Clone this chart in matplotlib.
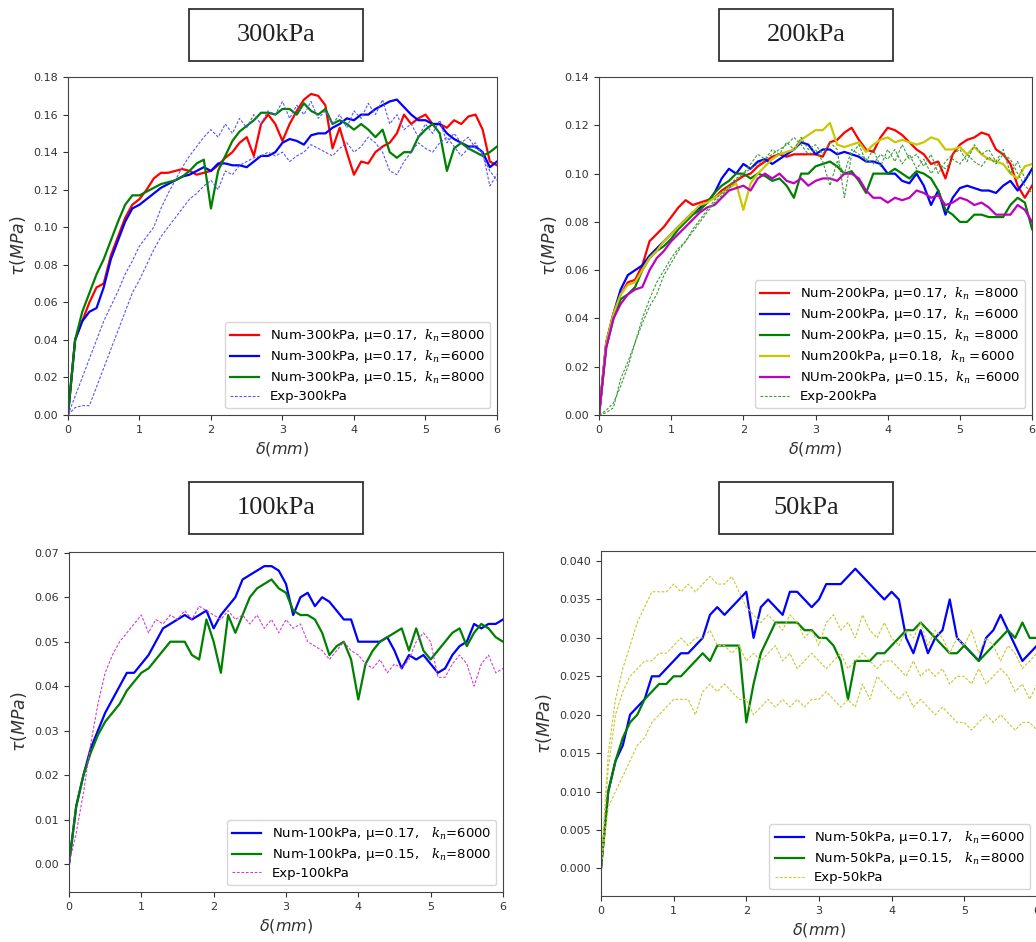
import numpy as np
import matplotlib
matplotlib.use('Agg')
import matplotlib.pyplot as plt
from matplotlib.patches import Rectangle
from matplotlib.font_manager import FontProperties

# displacement grid shared by every curve (0.0 .. 6.0 mm, step 0.1)
X = np.linspace(0, 6, 61)

# ---- 300kPa ----
red_300 = [0, .040, .050, .060, .068, .070, .085, .095, .105, .112,
           .115, .120, .126, .129, .129, .130, .131, .130, .128, .129,
           .130, .133, .137, .140, .145, .148, .138, .155, .160, .155,
           .146, .155, .162, .168, .171, .170, .165, .142, .153, .140,
           .128, .135, .134, .140, .143, .145, .150, .160, .155, .158,
           .160, .155, .155, .153, .157, .155, .159, .160, .152, .135,
           .133]
blue_300 = [0, .040, .050, .055, .057, .068, .083, .093, .103, .110,
            .112, .115, .118, .121, .123, .125, .127, .128, .130, .132,
            .130, .134, .134, .133, .133, .132, .135, .138, .138, .140,
            .145, .147, .146, .144, .149, .150, .150, .153, .155, .158,
            .157, .160, .160, .163, .165, .167, .168, .164, .160, .157,
            .157, .155, .155, .150, .147, .145, .143, .143, .140, .132,
            .135]
green_300 = [0, .040, .055, .065, .075, .083, .093, .103, .112, .117,
             .117, .119, .121, .123, .124, .125, .127, .130, .134, .136,
             .110, .130, .138, .146, .151, .154, .157, .161, .161, .160,
             .163, .163, .160, .166, .162, .160, .163, .155, .157, .155,
             .152, .155, .152, .148, .152, .140, .137, .140, .140, .148,
             .152, .155, .150, .130, .142, .145, .142, .140, .138, .140,
             .143]
exp_300_a = [0, .010, .020, .030, .040, .050, .058, .066, .075, .082,
             .090, .095, .100, .110, .118, .125, .132, .138, .143, .148,
             .152, .148, .155, .150, .158, .153, .160, .155, .162, .160,
             .167, .158, .165, .160, .167, .158, .162, .155, .160, .153,
             .162, .158, .166, .160, .168, .155, .160, .152, .155, .148,
             .155, .150, .157, .145, .150, .145, .148, .142, .140, .122,
             .128]
exp_300_b = [0, .004, .005, .005, .015, .025, .035, .045, .055, .065,
             .072, .080, .088, .095, .100, .105, .110, .115, .118, .122,
             .125, .120, .130, .128, .133, .135, .137, .138, .140, .138,
             .140, .135, .138, .140, .144, .142, .140, .138, .142, .145,
             .140, .143, .148, .145, .140, .130, .128, .135, .140, .145,
             .142, .140, .145, .148, .143, .138, .142, .145, .138, .130,
             .125]

# ---- 200kPa ----
red_200 = [0, .030, .042, .050, .055, .056, .062, .072, .075, .078,
           .082, .086, .089, .087, .088, .089, .090, .093, .095, .097,
           .099, .100, .103, .105, .107, .108, .107, .108, .108, .108,
           .108, .107, .113, .114, .117, .119, .114, .110, .109, .115,
           .119, .118, .116, .113, .110, .108, .104, .105, .098, .108,
           .112, .114, .115, .117, .116, .110, .108, .104, .095, .090,
           .095]
blue_200 = [0, .030, .042, .052, .058, .060, .062, .066, .069, .072,
            .075, .078, .081, .084, .086, .088, .092, .098, .102, .100,
            .104, .102, .105, .106, .104, .106, .108, .110, .113, .112,
            .108, .110, .110, .108, .109, .108, .107, .105, .105, .104,
            .100, .100, .097, .096, .100, .095, .087, .093, .083, .090,
            .094, .095, .094, .093, .093, .092, .095, .097, .093, .097,
            .102]
green_200 = [0, .028, .040, .048, .050, .053, .060, .065, .068, .070,
             .073, .077, .080, .083, .085, .088, .092, .095, .097, .100,
             .100, .098, .100, .099, .097, .098, .095, .090, .100, .100,
             .103, .104, .105, .103, .100, .101, .097, .092, .100, .100,
             .100, .102, .100, .098, .101, .100, .098, .093, .085, .083,
             .080, .080, .083, .083, .082, .082, .082, .087, .090, .088,
             .077]
yellow_200 = [0, .030, .042, .050, .054, .055, .060, .065, .068, .072,
              .075, .078, .081, .084, .087, .088, .090, .092, .094, .096,
              .085, .096, .100, .103, .106, .108, .109, .110, .114, .116,
              .118, .118, .121, .112, .111, .112, .113, .109, .112, .114,
              .115, .113, .114, .113, .112, .113, .115, .114, .110, .110,
              .111, .108, .111, .108, .106, .105, .104, .100, .098, .103,
              .104]
magenta_200 = [0, .028, .040, .046, .050, .052, .053, .060, .065, .068,
               .072, .075, .078, .081, .084, .086, .087, .090, .093, .094,
               .095, .093, .098, .100, .098, .100, .097, .096, .098, .095,
               .097, .098, .098, .097, .100, .100, .098, .093, .090, .090,
               .088, .090, .089, .090, .093, .092, .090, .091, .087, .088,
               .090, .089, .087, .088, .086, .083, .083, .083, .087, .085,
               .080]
exp_200_a = [0, .002, .005, .012, .020, .030, .040, .048, .055, .060,
             .065, .069, .072, .076, .080, .084, .088, .091, .094, .097,
             .100, .104, .108, .106, .110, .108, .113, .110, .115, .110,
             .112, .108, .113, .110, .090, .108, .112, .105, .110, .103,
             .110, .105, .112, .106, .108, .103, .108, .100, .105, .108,
             .110, .105, .112, .108, .110, .105, .110, .100, .105, .098,
             .100]
exp_200_b = [0, .001, .003, .015, .022, .030, .038, .045, .050, .058,
             .063, .068, .072, .077, .081, .085, .089, .092, .095, .098,
             .100, .102, .104, .106, .108, .110, .112, .115, .112, .108,
             .110, .105, .095, .105, .100, .110, .108, .106, .104, .108,
             .106, .110, .104, .108, .102, .106, .100, .104, .102, .106,
             .104, .108, .105, .103, .107, .104, .108, .106, .100, .095,
             .092]

# ---- 100kPa ----
blue_100 = [0, .013, .020, .026, .030, .034, .037, .040, .043, .043,
            .045, .047, .050, .053, .054, .055, .056, .055, .056, .057,
            .053, .056, .058, .060, .064, .065, .066, .067, .067, .066,
            .063, .056, .060, .061, .058, .060, .059, .057, .055, .055,
            .050, .050, .050, .050, .051, .048, .044, .047, .046, .047,
            .045, .043, .044, .047, .049, .050, .054, .053, .054, .054,
            .055]
green_100 = [0, .013, .020, .025, .029, .032, .034, .036, .039, .041,
             .043, .044, .046, .048, .050, .050, .050, .047, .046, .055,
             .050, .043, .056, .052, .056, .060, .062, .063, .064, .062,
             .061, .057, .056, .056, .055, .052, .047, .049, .050, .046,
             .037, .045, .048, .050, .051, .052, .053, .048, .053, .048,
             .046, .048, .050, .052, .053, .049, .052, .054, .053, .051,
             .050]
exp_100 = [0, .007, .016, .027, .036, .043, .047, .050, .052, .054,
           .056, .052, .055, .054, .056, .055, .057, .055, .058, .057,
           .056, .055, .057, .055, .056, .054, .056, .053, .055, .052,
           .055, .053, .054, .050, .049, .048, .046, .048, .050, .048,
           .047, .045, .044, .046, .043, .045, .044, .046, .050, .052,
           .050, .042, .042, .045, .047, .045, .040, .045, .047, .043,
           .044]

# ---- 50kPa ----
blue_50 = [0, .010, .014, .016, .020, .021, .022, .025, .025, .026,
           .027, .028, .028, .029, .030, .033, .034, .033, .034, .035,
           .036, .030, .034, .035, .034, .033, .036, .036, .035, .034,
           .035, .037, .037, .037, .038, .039, .038, .037, .036, .035,
           .036, .035, .030, .028, .031, .028, .030, .031, .035, .030,
           .029, .028, .027, .030, .031, .033, .031, .029, .027, .028,
           .029]
green_50 = [0, .010, .014, .017, .019, .020, .022, .023, .024, .024,
            .025, .025, .026, .027, .028, .027, .029, .029, .029, .029,
            .019, .024, .028, .030, .032, .032, .032, .032, .031, .031,
            .030, .030, .029, .027, .022, .027, .027, .027, .028, .028,
            .029, .030, .031, .031, .032, .031, .030, .029, .028, .028,
            .029, .028, .027, .028, .029, .030, .031, .030, .032, .030,
            .030]
exp_50_a = [0, .015, .022, .026, .029, .032, .034, .036, .036, .036,
            .037, .036, .037, .036, .037, .038, .037, .037, .038, .036,
            .034, .033, .032, .033, .032, .031, .033, .032, .030, .031,
            .029, .032, .033, .031, .032, .030, .033, .031, .030, .032,
            .030, .029, .031, .030, .032, .029, .031, .030, .028, .030,
            .029, .031, .028, .030, .029, .027, .029, .028, .026, .027,
            .028]
exp_50_b = [0, .013, .020, .023, .025, .026, .027, .027, .028, .028,
            .029, .030, .029, .030, .030, .031, .029, .029, .028, .029,
            .027, .028, .027, .028, .029, .027, .028, .026, .027, .028,
            .027, .026, .027, .028, .026, .027, .028, .027, .026, .027,
            .027, .026, .025, .027, .025, .026, .025, .026, .024, .025,
            .025, .024, .026, .024, .025, .026, .025, .023, .024, .022,
            .024]
exp_50_c = [0, .008, .010, .012, .014, .016, .017, .019, .020, .021,
            .022, .022, .022, .020, .023, .024, .023, .024, .023, .022,
            .022, .020, .021, .022, .021, .022, .021, .022, .021, .022,
            .022, .023, .022, .021, .022, .021, .024, .022, .025, .024,
            .023, .022, .023, .021, .022, .021, .020, .021, .020, .019,
            .019, .018, .019, .020, .019, .020, .019, .018, .019, .019,
            .018]

plt.rcParams['font.family'] = 'DejaVu Sans'
plt.rcParams['xtick.labelsize'] = 8
plt.rcParams['ytick.labelsize'] = 8
plt.rcParams['xtick.color'] = '#333333'
plt.rcParams['ytick.color'] = '#333333'
plt.rcParams['axes.edgecolor'] = '#444444'

DASH = (0, (2.5, 1.5))
leg_font = FontProperties(family='DejaVu Sans', size=9.5,
                          math_fontfamily='dejavuserif')


def draw_panel(ax, nums, exps, exp_label, exp_color, ylim, yticks, yfmt):
    for y, c, lab in nums:
        ax.plot(X, y, color=c, lw=1.6, label=lab)
    for i, y in enumerate(exps):
        ax.plot(X, y, color=exp_color, lw=0.8, ls=DASH,
                label=exp_label if i == 0 else None)
    ax.set_xlim(0, 6)
    ax.set_ylim(*ylim)
    ax.set_yticks(yticks)
    ax.set_yticklabels([yfmt % v for v in yticks])
    ax.set_xticks(range(7))
    ax.set_xlabel(r'$\delta(mm)$', fontsize=11.5, color='#333333')
    ax.set_ylabel(r'$\tau(MPa)$', fontsize=12.5, color='#333333')
    ax.legend(loc='lower right', prop=leg_font, handlelength=2.2,
              labelspacing=0.3, borderpad=0.4)


def title_box(fig, x0, y0, text):
    w, h = 0.168, 0.0552
    fig.add_artist(Rectangle((x0, y0), w, h, transform=fig.transFigure,
                             fill=False, edgecolor='#333333', lw=1.3))
    fig.text(x0 + w / 2, y0 + h / 2, text, ha='center', va='center',
             family='Liberation Serif', fontsize=19, color='#222222')


fig = plt.figure(figsize=(10.36, 9.42), dpi=100)

ax1 = fig.add_axes([0.0656, 0.5594, 0.4141, 0.3588])
draw_panel(ax1,
           [(red_300, 'red', r'Num-300kPa, μ=0.17,  $k_n$=8000'),
            (blue_300, 'blue', r'Num-300kPa, μ=0.17,  $k_n$=6000'),
            (green_300, 'green', r'Num-300kPa, μ=0.15,  $k_n$=8000')],
           [exp_300_a, exp_300_b], 'Exp-300kPa', '#5555ff',
           (0, 0.18), np.arange(0, 0.181, 0.02), '%.2f')

ax2 = fig.add_axes([0.5782, 0.5594, 0.418, 0.3588])
draw_panel(ax2,
           [(red_200, 'red', r'Num-200kPa, μ=0.17,  $k_n$ =8000'),
            (blue_200, 'blue', r'Num-200kPa, μ=0.17,  $k_n$ =6000'),
            (green_200, 'green', r'Num-200kPa, μ=0.15,  $k_n$ =8000'),
            (yellow_200, '#c8c800', r'Num200kPa, μ=0.18,  $k_n$ =6000'),
            (magenta_200, '#c000c0', r'NUm-200kPa, μ=0.15,  $k_n$ =6000')],
           [exp_200_a, exp_200_b], 'Exp-200kPa', '#3a9a3a',
           (0, 0.14), np.arange(0, 0.141, 0.02), '%.2f')

ax3 = fig.add_axes([0.0666, 0.0531, 0.4189, 0.361])
draw_panel(ax3,
           [(blue_100, 'blue', r'Num-100kPa, μ=0.17,   $k_n$=6000'),
            (green_100, 'green', r'Num-100kPa, μ=0.15,   $k_n$=8000')],
           [exp_100], 'Exp-100kPa', '#d040d0',
           (-0.0063, 0.0702), np.arange(0, 0.0701, 0.01), '%.2f')

ax4 = fig.add_axes([0.5801, 0.0488, 0.4208, 0.3662])
draw_panel(ax4,
           [(blue_50, 'blue', r'Num-50kPa, μ=0.17,   $k_n$=6000'),
            (green_50, 'green', r'Num-50kPa, μ=0.15,   $k_n$=8000')],
           [exp_50_a, exp_50_b, exp_50_c], 'Exp-50kPa', '#c8c830',
           (-0.0036, 0.0413), np.arange(0, 0.0401, 0.005), '%.3f')

title_box(fig, 0.1824, 0.9352, '300kPa')
title_box(fig, 0.694, 0.9352, '200kPa')
title_box(fig, 0.1824, 0.4331, '100kPa')
title_box(fig, 0.694, 0.4331, '50kPa')

fig.savefig('out.png', dpi=100)
